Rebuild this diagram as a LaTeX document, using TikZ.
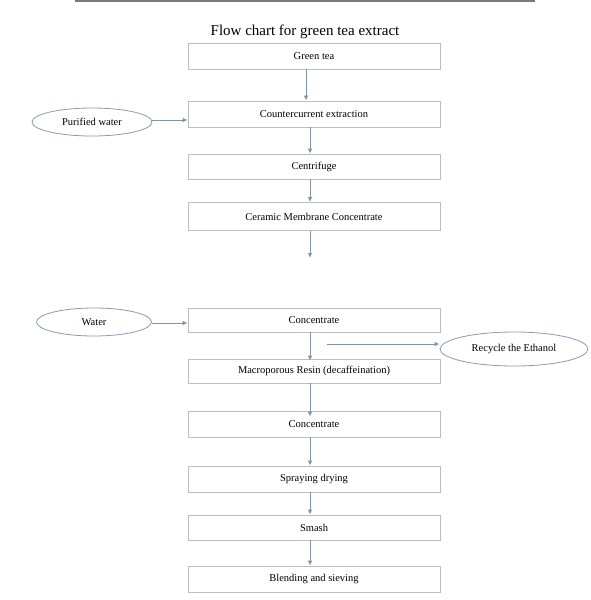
\documentclass[tikz,border=0pt]{standalone}
\usepackage{fontspec}
\setmainfont{Liberation Serif}
\usetikzlibrary{arrows.meta,shapes.geometric}
\definecolor{boxline}{HTML}{BDBDBD}
\definecolor{arrowcol}{HTML}{7F93AD}
\definecolor{ellline}{HTML}{8A9BB2}
\tikzset{
  stepbox/.style={draw=boxline, line width=0.8pt, minimum width=252pt, minimum height=26pt, inner sep=0pt, font=\fontsize{10.5}{12}\selectfont},
  inbox/.style={ellipse, draw=ellline, line width=0.8pt, inner sep=0pt, font=\fontsize{10.5}{12}\selectfont},
  flow/.style={draw=arrowcol, line width=0.9pt, -{Latex[length=5pt,width=4.5pt]}}
}
\begin{document}
\begin{tikzpicture}[x=1pt,y=-1pt]
\useasboundingbox (0,0) rectangle (590,600);
\fill[white] (0,0) rectangle (590,600);
\draw[gray!95!black, line width=1.5pt] (75,0.75) -- (535,0.75);
\node[font=\fontsize{15}{18}\selectfont] (title) at (305,32) {Flow chart for green tea extract};

\node[stepbox] (g1) at (314,56) {Green tea};
\node[stepbox] (g2) at (314,114) {Countercurrent extraction};
\node[stepbox, minimum height=25pt] (g3) at (314,166.5) {Centrifuge};
\node[stepbox, minimum height=28pt] (g4) at (314,216.5) {Ceramic Membrane Concentrate};
\node[stepbox, minimum height=24pt] (g5) at (314,320) {Concentrate};
\node[stepbox, minimum height=24pt] (g6) at (314,371) {Macroporous Resin (decaffeination)};
\node[stepbox] (g7) at (314,424) {Concentrate};
\node[stepbox] (g8) at (314,479) {Spraying drying};
\node[stepbox, minimum height=25pt] (g9) at (314,527.5) {Smash};
\node[stepbox] (g10) at (314,579) {Blending and sieving};

\node[inbox, minimum width=120pt, minimum height=28pt] (pw) at (92,122) {Purified water};
\node[inbox, minimum width=115pt, minimum height=28pt] (wa) at (94,322) {Water};
\node[inbox, minimum width=148pt, minimum height=34pt] (rec) at (514,349) {Recycle the Ethanol};

\coordinate (a1) at (306,0);
\coordinate (ax) at (310,0);
\coordinate (mid) at (310,258);
\coordinate (recs) at (327,344);

\draw[flow] (g1.south -| a1) -- (g2.north -| a1);
\draw[flow] (g2.south -| ax) -- (g3.north -| ax);
\draw[flow] (g3.south -| ax) -- (g4.north -| ax);
\draw[flow] (g4.south -| ax) -- (mid);
\draw[flow] (g5.south -| ax) -- ([yshift=-2pt]g6.north -| ax);
\draw[flow] (g6.south -| ax) -- ([yshift=-6pt]g7.north -| ax);
\draw[flow] (g7.south -| ax) -- (g8.north -| ax);
\draw[flow] (g8.south -| ax) -- (g9.north -| ax);
\draw[flow] (g9.south -| ax) -- (g10.north -| ax);

\draw[flow] (pw.east |- 0,120) -- (g2.west |- 0,120);
\draw[flow] (wa.east |- 0,323) -- (g5.west |- 0,323);
\draw[flow] (recs) -- (recs -| rec.west);
\end{tikzpicture}
\end{document}
